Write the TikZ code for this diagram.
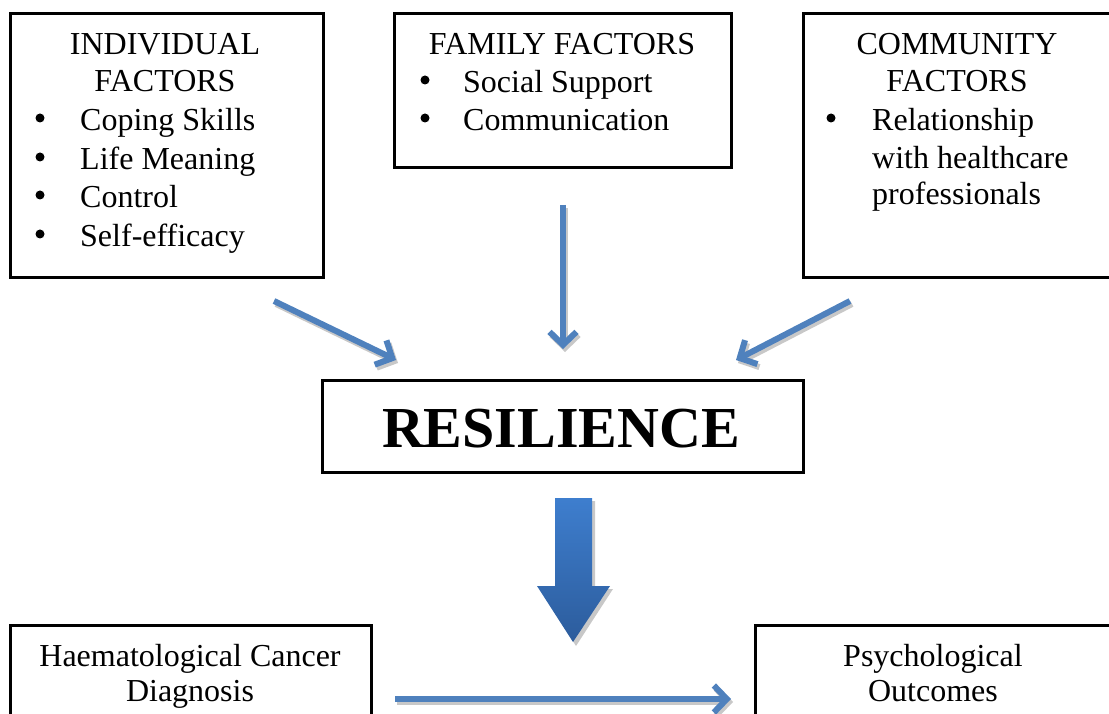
\documentclass[tikz,border=0pt]{standalone}
\usepackage{fontspec}
\setmainfont{Liberation Serif}
\usetikzlibrary{arrows.meta}
\definecolor{arrowblue}{RGB}{79,129,189}
\definecolor{shadowgray}{RGB}{200,200,200}
\definecolor{bigtop}{RGB}{62,126,206}
\definecolor{bigbot}{RGB}{44,92,156}
\begin{document}
\begin{tikzpicture}[x=1pt,y=-1pt,
  box/.style={draw,line width=3pt,anchor=north west,inner sep=0pt},
  txt/.style={font=\fontsize{32}{38}\selectfont,anchor=base west,inner sep=0pt},
  ctxt/.style={font=\fontsize{32}{38}\selectfont,anchor=base,inner sep=0pt},
  bul/.style={circle,fill=black,inner sep=0pt,minimum size=9pt},
  conn/.style={line width=6pt,arrowblue,-{Straight Barb[length=13pt,width=27pt]}},
  connshadow/.style={line width=6pt,shadowgray,-{Straight Barb[length=13pt,width=27pt]}}]
\useasboundingbox (0,0) rectangle (1109,714);
\clip (0,0) rectangle (1109,714);
% boxes
\node[box,minimum width=313pt,minimum height=264pt] (ind) at (9,12) {};
\node[box,minimum width=337pt,minimum height=154pt] (fam) at (393,12) {};
\node[box,minimum width=330pt,minimum height=264pt] (com) at (802,12) {};
\node[box,minimum width=481pt,minimum height=92pt] (res) at (321,379) {};
\node[box,minimum width=361pt,minimum height=110pt] (diag) at (9,624) {};
\node[box,minimum width=380pt,minimum height=110pt] (psy) at (754,624) {};
% individual text
\node[ctxt] (indt1) at (165,55) {INDIVIDUAL};
\node[ctxt] (indt2) at (165,92) {FACTORS};
\foreach \y/\t [count=\i] in {131/Coping Skills,170/Life Meaning,208/Control,247/Self-efficacy}{
  \node[bul] (indb\i) at (40,\y-13) {};
  \node[txt] (indi\i) at (80,\y) {\t};
}
% family text
\node[ctxt] (famt) at (562,55) {FAMILY FACTORS};
\foreach \y/\t [count=\i] in {93/Social Support,131/Communication}{
  \node[bul] (famb\i) at (425,\y-13) {};
  \node[txt] (fami\i) at (463,\y) {\t};
}
% community text
\node[ctxt] (comt1) at (957,55) {COMMUNITY};
\node[ctxt] (comt2) at (957,92) {FACTORS};
\node[bul] (comb) at (831,118) {};
\node[txt] (comi1) at (872,131) {Relationship};
\node[txt] (comi2) at (872,169) {with healthcare};
\node[txt] (comi3) at (872,205) {professionals};
% resilience
\node[font=\fontsize{58}{68}\selectfont\bfseries,anchor=base,inner sep=0pt] (rest) at (561,447) {RESILIENCE};
% bottom texts
\node[ctxt] (diagt1) at (190,666) {Haematological Cancer};
\node[ctxt] (diagt2) at (190,701) {Diagnosis};
\node[ctxt] (psyt1) at (933,666) {Psychological};
\node[ctxt] (psyt2) at (933,701) {Outcomes};
% connectors
\coordinate (a1s) at (274,301);
\coordinate (a1e) at (396,360);
\coordinate (a2s) at (563,205);
\coordinate (a2e) at (563,349);
\coordinate (a3s) at (850,301);
\coordinate (a3e) at (736,360);
\coordinate (a4s) at (395,699);
\coordinate (a4e) at (731,699);
\foreach \s/\e in {a1s/a1e,a2s/a2e,a3s/a3e,a4s/a4e}{
  \draw[connshadow,transform canvas={shift={(2pt,-3pt)}}] (\s) -- (\e);
}
\foreach \s/\e in {a1s/a1e,a2s/a2e,a3s/a3e,a4s/a4e}{
  \draw[conn] (\s) -- (\e);
}
% big arrow
\fill[shadowgray] (558,501) -- (595,501) -- (595,589) -- (613,589) -- (576,646) -- (540,589) -- (558,589) -- cycle;
\shade[top color=bigtop,bottom color=bigbot] (555,498) -- (592,498) -- (592,586) -- (610,586) -- (573,642) -- (537,586) -- (555,586) -- cycle;
\end{tikzpicture}
\end{document}
